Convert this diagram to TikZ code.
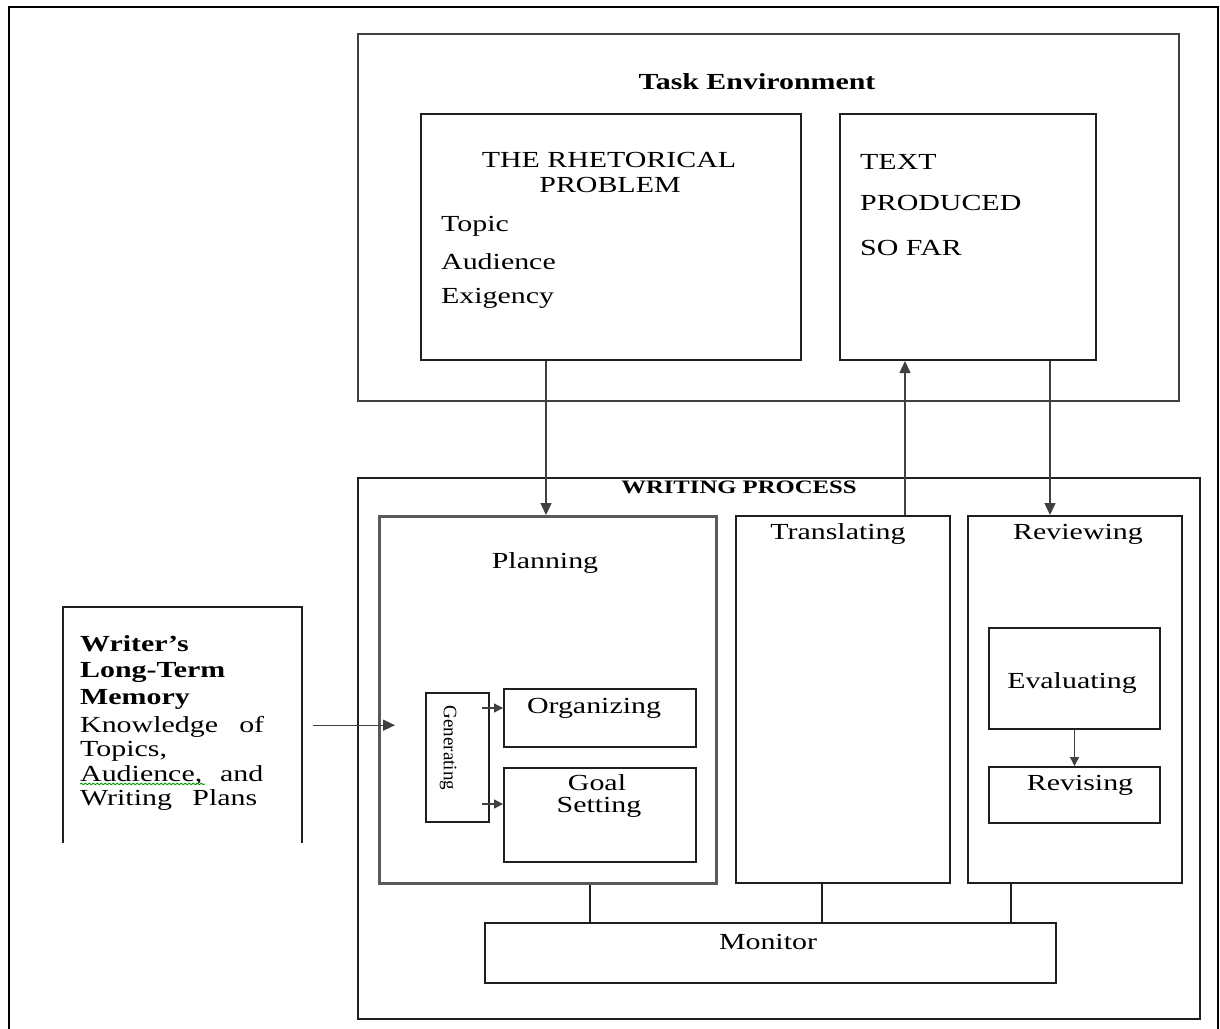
\documentclass[tikz,border=0pt]{standalone}
\usepackage{fontspec}
\setmainfont{Liberation Serif}[FakeStretch=1.3]
\newfontfamily\genfont{Liberation Serif}
\usetikzlibrary{arrows.meta,calc,decorations.pathmorphing}

\begin{document}
\begin{tikzpicture}[x=1pt,y=-1pt,
  frame/.style={draw=black, line width=2.2pt},
  box/.style={draw=black!88, line width=2pt, inner sep=0pt, anchor=north west},
  txt/.style={inner sep=0pt, font=\fontsize{23}{27}\selectfont},
  btxt/.style={inner sep=0pt, font=\fontsize{23}{27}\selectfont\bfseries},
  arr/.style={draw=black!75, line width=1.4pt, -{Triangle[length=12pt,width=11pt]}},
  sarr/.style={draw=black!75, line width=1.3pt, -{Triangle[length=9pt,width=9pt]}},
  link/.style={draw=black!88, line width=1.8pt}]

\useasboundingbox (0,0) rectangle (1220,1028);
\fill[white] (0,0) rectangle (1220,1028);

% outer frame (open at the bottom)
\draw[frame] (9,1030) -- (9,7) -- (1218,7) -- (1218,1030);

% Task environment
\node[box, draw=black!75, line width=2.4pt, minimum width=821pt, minimum height=367pt] (te) at (357,33) {};
\node[btxt] (tetitle) at (757,82) {Task Environment};
\node[box, minimum width=380pt, minimum height=246pt] (rp) at (420,113) {};
\node[box, minimum width=256pt, minimum height=246pt] (tp) at (839,113) {};
\node[txt] (rp1) at (609,160) {THE RHETORICAL};
\node[txt] (rp2) at (610,185) {PROBLEM};
\node[txt, anchor=west] (rp3) at (441,226) {Topic};
\node[txt, anchor=west] (rp4) at (441,262) {Audience};
\node[txt, anchor=west] (rp5) at (441,298) {Exigency};
\node[txt, anchor=west] (tp1) at (860,162) {TEXT};
\node[txt, anchor=west] (tp2) at (860,203) {PRODUCED};
\node[txt, anchor=west] (tp3) at (860,248) {SO FAR};

% Writing process
\node[box, minimum width=842pt, minimum height=541pt] (wp) at (357,477) {};
\node[inner sep=0pt, font=\fontsize{19}{22}\selectfont\bfseries] (wptitle) at (739,487) {WRITING PROCESS};
\node[box, draw=black!65, line width=2.6pt, minimum width=337pt, minimum height=367pt] (plan) at (378,515) {};
\node[box, minimum width=214pt, minimum height=367pt] (trans) at (735,515) {};
\node[box, minimum width=214pt, minimum height=367pt] (revw) at (967,515) {};
\node[txt] (plantxt) at (545,563) {Planning};
\node[txt] (transtxt) at (838,534) {Translating};
\node[txt] (revwtxt) at (1078,534) {Reviewing};

\node[box, minimum width=63pt, minimum height=129pt] (gen) at (425,692) {};
\node[inner sep=0pt, rotate=-90, font=\genfont\fontsize{19}{22}\selectfont] (gentxt) at (448,748) {Generating};
\node[box, minimum width=192pt, minimum height=58pt] (org) at (503,688) {};
\node[box, minimum width=192pt, minimum height=94pt] (goal) at (503,767) {};
\node[txt] (orgtxt) at (594,708) {Organizing};
\node[txt] (goaltxt1) at (597,783) {Goal};
\node[txt] (goaltxt2) at (599,807) {Setting};

\node[box, minimum width=171pt, minimum height=101pt] (eval) at (988,627) {};
\node[box, minimum width=171pt, minimum height=56pt] (rev) at (988,766) {};
\node[txt] (evaltxt) at (1072,683) {Evaluating};
\node[txt] (revtxt) at (1080,785) {Revising};

\node[box, minimum width=571pt, minimum height=60pt] (mon) at (484,922) {};
\node[txt] (montxt) at (768,942) {Monitor};

% Long-term memory (box open at the bottom)
\node[inner sep=0pt, anchor=north west, minimum width=239pt, minimum height=236pt] (mem) at (63,607) {};
\draw[draw=black!88, line width=2pt] (mem.south west) -- (mem.north west) -- (mem.north east) -- (mem.south east);
\node[btxt, anchor=west] (mw1) at (80,644) {Writer’s};
\node[btxt, anchor=west] (mw2) at (80,672) {Long-Term};
\node[btxt, anchor=west] (mw3) at (80,699) {Memory};
\node[txt, anchor=west] (mk1) at (80,727) {\makebox[184pt][s]{Knowledge of}};
\node[txt, anchor=west] (mk2) at (80,751) {Topics,};
\node[txt, anchor=west] (mk3) at (80,775) {\makebox[183pt][s]{Audience, and}};
\node[txt, anchor=west] (mk4) at (80,800) {\makebox[177pt][s]{Writing Plans}};
\draw[green!60!black, line width=0.9pt, decorate, decoration={snake, amplitude=0.7pt, segment length=4pt}]
  ([yshift=1pt]mk3.south west) -- ++(125,0);

% connectors
\draw[arr] ([xshift=126pt]rp.south west) -- ([xshift=126pt]rp.south west |- plan.north);
\draw[arr] ([xshift=170pt]trans.north west) -- ([xshift=170pt]trans.north west |- tp.south);
\draw[arr] ([xshift=211pt]tp.south west) -- ([xshift=211pt]tp.south west |- revw.north);
\draw[arr] ([xshift=11pt]mem.east) -- ([xshift=-30pt]gen.west |- mem.east);

\coordinate (orgin) at ([yshift=10pt]org.west);
\coordinate (goalin) at ([yshift=11pt]goal.west);
\draw[sarr] ([xshift=-8pt]gen.east |- orgin) -- (orgin);
\draw[sarr] ([xshift=-8pt]gen.east |- goalin) -- (goalin);
\draw[sarr] (eval.south) -- (rev.north);

\draw[link] ([xshift=212pt]plan.south west) -- ([xshift=212pt]plan.south west |- mon.north);
\draw[link] ([xshift=87pt]trans.south west) -- ([xshift=87pt]trans.south west |- mon.north);
\draw[link] ([xshift=44pt]revw.south west) -- ([xshift=44pt]revw.south west |- mon.north);
\end{tikzpicture}
\end{document}
